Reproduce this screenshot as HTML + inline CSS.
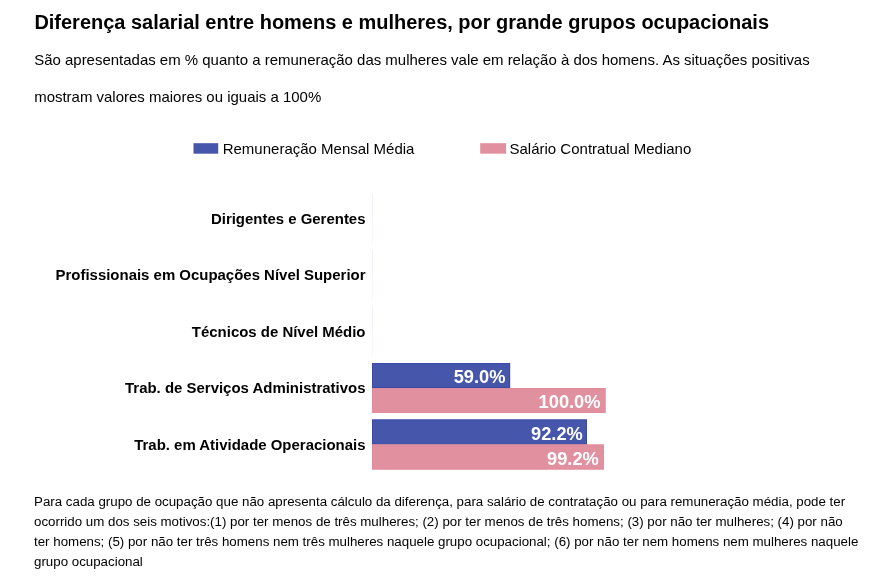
<!DOCTYPE html>
<html lang="pt-BR"><head><meta charset="utf-8"><title>Diferença salarial</title>
<style>
html,body{margin:0;padding:0;background:#fff;}
body{width:877px;height:580px;overflow:hidden;position:relative;font-family:"Liberation Sans",Arial,sans-serif;color:#000;}
.t{position:absolute;white-space:nowrap;margin:0;display:block;}
h1.t{left:34.4px;top:12px;font-size:19.98px;line-height:20px;font-weight:bold;}
.sub{left:34.2px;font-size:14.975px;line-height:15px;}
.ft{left:34px;font-size:13.32px;line-height:15px;}
svg{position:absolute;left:0;top:0;font-family:"Liberation Sans",Arial,sans-serif;}
.yl{font-size:14.96px;font-weight:bold;text-anchor:end;fill:#000;}
.lg{font-size:15px;fill:#000;}
.v{font-size:18.25px;font-weight:bold;text-anchor:end;fill:#fff;}
</style></head><body>
<h1 class="t">Diferença salarial entre homens e mulheres, por grande grupos ocupacionais</h1>
<p class="t sub" style="top:52px">São apresentadas em % quanto a remuneração das mulheres vale em relação à dos homens. As situações positivas</p>
<p class="t sub" style="top:89px">mostram valores maiores ou iguais a 100%</p>
<svg width="877" height="580" viewBox="0 0 877 580">
<rect x="193.5" y="143.2" width="24.7" height="10.5" fill="#4656ab"/>
<text class="lg" x="222.7" y="154">Remuneração Mensal Média</text>
<rect x="480.2" y="143.2" width="25.9" height="10.5" fill="#e1909f"/>
<text class="lg" x="509.5" y="154">Salário Contratual Mediano</text>
<rect x="372" y="193.5" width="1" height="25" fill="#eff0fa"/><rect x="372" y="218.5" width="1" height="25" fill="#fcf5f6"/><rect x="372" y="250.0" width="1" height="25" fill="#eff0fa"/><rect x="372" y="275.0" width="1" height="25" fill="#fcf5f6"/><rect x="372" y="306.5" width="1" height="25" fill="#eff0fa"/><rect x="372" y="331.5" width="1" height="25" fill="#fcf5f6"/>
<text class="yl" x="365.5" y="224">Dirigentes e Gerentes</text>
<text class="yl" x="365.5" y="280">Profissionais em Ocupações Nível Superior</text>
<text class="yl" x="365.5" y="337">Técnicos de Nível Médio</text>
<text class="yl" x="365.5" y="393">Trab. de Serviços Administrativos</text>
<text class="yl" x="365.5" y="450">Trab. em Atividade Operacionais</text>
<rect x="372" y="363" width="138.1" height="25" fill="#4656ab"/><rect x="372.5" y="363.5" width="137.1" height="24" fill="none" stroke="#3a4aa5" stroke-width="1"/>
<rect x="372" y="388" width="233.5" height="25" fill="#e1909f"/><rect x="372.5" y="388.5" width="232.5" height="24" fill="none" stroke="#e08b9b" stroke-width="1"/>
<rect x="372" y="419.5" width="215.0" height="25" fill="#4656ab"/><rect x="372.5" y="420.0" width="214.0" height="24" fill="none" stroke="#3a4aa5" stroke-width="1"/>
<rect x="372" y="444.5" width="231.8" height="25" fill="#e1909f"/><rect x="372.5" y="445.0" width="230.8" height="24" fill="none" stroke="#e08b9b" stroke-width="1"/>
<text class="v" x="505.4" y="383">59.0%</text>
<text class="v" x="600.5" y="408">100.0%</text>
<text class="v" x="582.8" y="440">92.2%</text>
<text class="v" x="598.8" y="465">99.2%</text>
</svg>
<p class="t" style="left:0;top:0">
<span class="t ft" style="top:494px">Para cada grupo de ocupação que não apresenta cálculo da diferença, para salário de contratação ou para remuneração média, pode ter</span>
<span class="t ft" style="top:514px">ocorrido um dos seis motivos:(1) por ter menos de três mulheres; (2) por ter menos de três homens; (3) por não ter mulheres; (4) por não</span>
<span class="t ft" style="top:534px">ter homens; (5) por não ter três homens nem três mulheres naquele grupo ocupacional; (6) por não ter nem homens nem mulheres naquele</span>
<span class="t ft" style="top:554px">grupo ocupacional</span>
</p>
</body></html>
